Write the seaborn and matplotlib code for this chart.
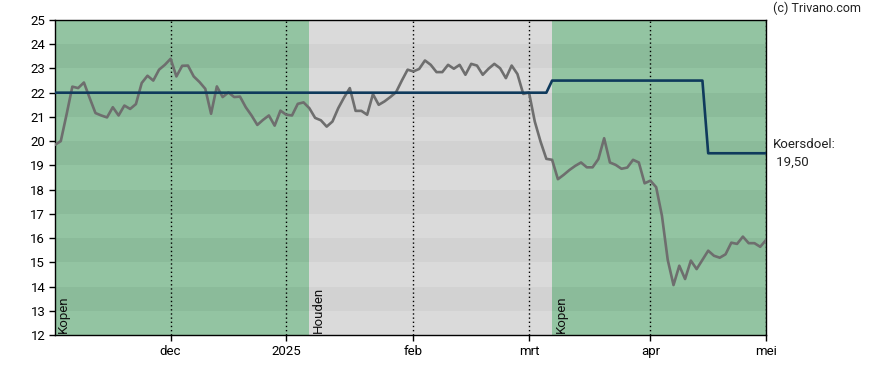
import numpy as np
import pandas as pd
import matplotlib
matplotlib.use("Agg")
import matplotlib.pyplot as plt
import seaborn as sns

# ---------------- data ----------------
start_date = "2024-11-04"
end_date = "2025-05-02"
holidays = ["2024-12-25", "2024-12-26", "2025-01-01", "2025-04-18", "2025-04-21", "2025-05-01"]

price = [
    19.85, 20.00, 21.10, 22.25, 22.19, 22.42, 21.78, 21.16, 21.06, 20.98,
    21.40, 21.06, 21.47, 21.33, 21.53, 22.40, 22.70, 22.50, 22.95, 23.15,
    23.40, 22.67, 23.11, 23.12, 22.67, 22.44, 22.16, 21.13, 22.26, 21.82,
    22.01, 21.82, 21.84, 21.40, 21.06, 20.67, 20.88, 21.06, 20.64, 21.26,
    21.09, 21.06, 21.54, 21.60, 21.36, 20.96, 20.86, 20.60, 20.81, 21.36,
    21.80, 22.19, 21.25, 21.25, 21.09, 21.94, 21.50, 21.64, 21.82, 22.02,
    22.50, 22.95, 22.88, 22.98, 23.33, 23.15, 22.85, 22.85, 23.15, 22.99,
    23.15, 22.74, 23.19, 23.12, 22.74, 22.99, 23.19, 23.01, 22.60, 23.12,
    22.77, 21.95, 22.01, 20.81, 19.98, 19.27, 19.23, 18.43, 18.61, 18.81,
    18.98, 19.12, 18.92, 18.92, 19.26, 20.12, 19.12, 19.02, 18.86, 18.91,
    19.23, 19.12, 18.26, 18.37, 18.10, 16.92, 15.10, 14.06, 14.86, 14.31,
    15.07, 14.72, 15.10, 15.48, 15.27, 15.19, 15.33, 15.81, 15.76, 16.06,
    15.79, 15.79, 15.64, 15.92,
]

target_change_dates = ["2024-11-04", "2025-03-07", "2025-04-15"]
target_values = [22.0, 22.5, 19.5]

advice_dates = ["2024-11-04", "2025-01-08", "2025-03-07"]
advice_labels = ["Kopen", "Houden", "Kopen"]

month_tick_labels = ["dec", "2025", "feb", "mrt", "apr", "mei"]
month_tick_starts = ["2024-12-01", "2025-01-01", "2025-02-01", "2025-03-01", "2025-04-01", "2025-05-01"]

y_ticks = list(range(12, 26))

target_label = "Koersdoel:\n 19,50"
copyright_text = "(c) Trivano.com"

# ---------------- build frame ----------------
dates = pd.bdate_range(start_date, end_date)
dates = dates[~dates.isin(pd.to_datetime(holidays))]
df = pd.DataFrame({"date": dates, "price": price})
df["pos"] = np.arange(len(df))
tgt = pd.Series(target_values, index=pd.to_datetime(target_change_dates))
df["target"] = tgt.reindex(df["date"], method="ffill").values


def pos_of(d):
    return int(np.searchsorted(df["date"].values, np.datetime64(pd.Timestamp(d))))


# ---------------- style ----------------
sns.set_style("ticks")
plt.rcParams["font.family"] = ["Roboto", "DejaVu Sans"]
FS = 9.5
plt.rcParams["font.size"] = FS

fig = plt.figure(figsize=(8.88, 3.70), dpi=100)
ax = fig.add_axes([55 / 888, 1 - 335 / 370, (766 - 55) / 888, (335 - 20) / 370])

ymin, ymax = 12, 25
xmax = len(df) - 1

region_colors = {"Kopen": ("#93c4a2", "#8bbb9a"), "Houden": ("#dadada", "#d2d2d2")}
starts = [pos_of(d) for d in advice_dates] + [xmax]
for i, lab in enumerate(advice_labels):
    x0, x1 = starts[i], starts[i + 1]
    light, dark = region_colors[lab]
    ax.axvspan(x0, x1, color=light, lw=0, zorder=0)
    for yb in range(ymin + 1, ymax, 2):
        ax.fill_between([x0, x1], yb, yb + 1, color=dark, lw=0, zorder=0.5)
    ax.text(x0 + 0.4, ymin + 0.08, lab, rotation=90, ha="left", va="bottom",
            fontsize=FS, color="#111111", zorder=5)

tick_pos = [pos_of(d) for d in month_tick_starts]
for tp in tick_pos:
    ax.axvline(tp, color="black", lw=1, ls=(0, (1, 2)), zorder=1)

sns.lineplot(data=df, x="pos", y="price", ax=ax, color="#6e6e6e", lw=1.9, zorder=3)
sns.lineplot(data=df, x="pos", y="target", ax=ax, color="#0f3a5c", lw=1.9, zorder=4)

ax.set_xlim(0, xmax)
ax.set_ylim(ymin, ymax)
ax.set_yticks(y_ticks)
ax.set_xticks(tick_pos)
ax.set_xticklabels(month_tick_labels)
ax.set_xlabel("")
ax.set_ylabel("")
ax.tick_params(axis="both", direction="out", length=4, width=1, colors="black",
               labelsize=FS, pad=3)
for s in ax.spines.values():
    s.set_visible(True)
    s.set_color("black")
    s.set_linewidth(1)

ax.text(1.01, target_values[-1], target_label, transform=ax.get_yaxis_transform(),
        ha="left", va="center", fontsize=FS, color="#222222", linespacing=1.45)
fig.text(773 / 888, 1 - 8 / 370, copyright_text, ha="left", va="center",
         fontsize=9, color="#222222")

fig.savefig("out.png", dpi=100)
